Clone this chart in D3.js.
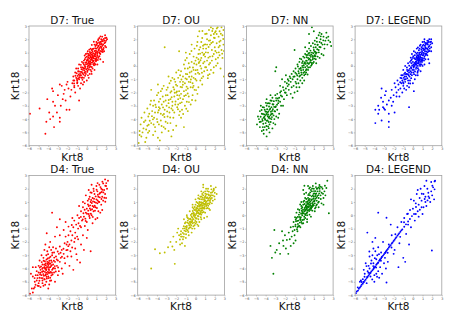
<!DOCTYPE html>
<html>
<head>
<meta charset="utf-8">
<script src="https://cdn.jsdelivr.net/npm/d3@7"></script>
<style>
  body { margin: 0; background: #fff; }
  text { font-family: "DejaVu Sans", sans-serif; }
</style>
</head>
<body>
<div id="chart"></div>
<script>
// panel titles, colours and shared ticks
const titles = ["D7: True", "D7: OU", "D7: NN", "D7: LEGEND", "D4: True", "D4: OU", "D4: NN", "D4: LEGEND"];
const colors = ["#ff0000", "#bfbf00", "#008000", "#0000ff", "#ff0000", "#bfbf00", "#008000", "#0000ff"];
const ticks = [-6, -5, -4, -3, -2, -1, 0, 1, 2, 3];
const xLabel = "Krt8";
const yLabel = "Krt18";

// points, [Krt8, Krt18]
const d7True = [
[0.2,0.3],[0.4,0.1],[0.1,-0.2],[-0.2,0.0],[0.5,0.6],[0.7,0.4],[0.3,0.8],[0.9,0.9],[0.6,1.1],[1.1,0.8],
[-0.4,-0.3],[-0.1,-0.6],[-0.6,-0.1],[0.0,0.4],[0.8,0.2],[1.0,1.3],[1.3,1.0],[1.2,1.5],[0.4,-0.3],[-0.3,0.4],
[-0.7,-0.6],[-0.5,-0.9],[-0.9,-0.4],[-0.8,-1.0],[-1.1,-0.9],[-1.0,-1.3],[-1.3,-1.1],[-0.6,-1.3],[-1.2,-0.5],[-0.3,-0.9],
[1.5,1.4],[1.4,1.8],[1.7,1.6],[1.6,1.2],[1.8,1.9],[1.9,1.5],[2.0,1.9],[1.5,2.0],[1.1,1.7],[0.9,1.5],
[0.7,1.3],[0.5,1.0],[0.2,0.9],[0.0,0.7],[-0.2,0.5],[0.3,-0.6],[0.6,-0.2],[0.9,0.1],[1.2,0.6],[1.4,0.9],
[0.15,0.05],[0.35,0.35],[0.55,0.25],[0.25,0.55],[0.75,0.75],[0.65,0.95],[0.85,0.55],[0.45,0.85],[0.05,0.15],[-0.05,-0.25],
[-0.25,-0.35],[-0.45,-0.55],[-0.15,0.25],[0.35,-0.05],[1.05,1.05],[1.25,1.25],[0.95,1.15],[1.15,1.05],[0.55,0.45],[0.35,0.65],
[-0.55,-0.25],[-0.35,-0.65],[-0.75,-0.85],[-0.85,-0.65],[-0.65,-0.45],[-0.95,-0.75],[-1.05,-0.55],[-0.45,-1.05],[-0.15,-0.45],[0.05,-0.45],
[0.95,0.35],[1.15,0.45],[0.75,0.05],[1.35,1.35],[1.55,1.65],[1.65,1.85],[1.75,1.35],[1.35,1.65],[0.65,0.65],[0.45,0.25],
[0.1,1.1],[0.4,1.3],[-0.1,0.9],[0.8,1.6],[1.0,1.8],[1.2,2.0],[1.6,2.2],[1.9,2.1],[2.1,2.0],[1.3,2.1],
[-0.8,0.1],[-0.5,0.3],[-0.9,-0.2],[-1.1,-0.2],[-1.4,-0.8],[-1.5,-1.3],[-1.3,-1.6],[-0.9,-1.5],[-0.7,-1.7],[-0.4,-1.4],
[0.2,-0.9],[0.5,-0.6],[0.8,-0.3],[1.1,0.1],[1.4,0.5],[1.7,0.3],[1.8,1.1],[2.0,1.4],[1.9,2.3],[0.0,-1.1],
[0.3,0.15],[0.6,0.75],[0.15,0.65],[0.85,0.85],[1.0,0.6],[0.5,1.2],[-0.3,0.1],[-0.6,-0.7],[-0.2,-0.2],[0.1,0.5],
[0.12,0.41],[0.33,0.18],[0.58,0.62],[0.81,0.74],[0.27,-0.12],[-0.08,0.12],[0.47,0.52],[0.69,0.33],[0.92,1.02],[1.08,0.91],
[1.21,1.18],[1.44,1.47],[1.62,1.52],[1.83,1.71],[0.38,0.96],[0.62,1.27],[0.87,1.33],[1.03,1.58],[1.27,1.76],[1.48,1.82],
[-0.33,-0.18],[-0.52,-0.46],[-0.71,-0.73],[-0.88,-0.93],[-1.02,-0.98],[-0.18,-0.74],[0.07,-0.36],[0.22,-0.28],[0.51,-0.08],[0.78,0.18],
[1.02,0.42],[1.31,0.72],[1.52,1.08],[1.71,1.22],[1.92,1.78],[2.03,2.12],[0.16,0.78],[-0.12,0.62],[-0.38,0.22],[-0.62,0.08],
[0.43,0.47],[0.29,0.33],[0.71,0.58],[0.57,0.83],[0.94,0.72],[0.18,0.22],[-0.04,0.28],[0.08,-0.06],[0.62,0.38],[0.83,1.12],
[1.13,1.38],[1.38,1.12],[0.48,-0.42],[0.12,-0.71],[-0.28,-1.21],[-0.58,-0.88],[-0.81,-0.42],[-1.18,-0.74],[-1.32,-1.32],[-0.98,-1.22],
[0.26,1.22],[0.52,1.58],[0.73,1.82],[1.17,1.92],[1.58,1.95],[1.76,2.02],[1.42,2.22],[0.03,0.93],[-0.22,0.78],[0.98,1.62],
[0.36,0.12],[0.54,0.64],[0.74,0.92],[0.96,0.52],[1.16,0.68],[1.34,0.96],[1.56,1.28],[1.66,1.04],[0.22,0.02],[-0.16,-0.08],
[-0.42,-0.12],[-0.24,-0.52],[0.41,0.72],[0.67,0.12],[0.89,0.44],[1.24,1.52],[1.46,1.64],[0.06,0.46],[-0.46,-0.86],[0.32,1.04],
[-1.0,-1.1],[-1.4,-1.1],[-2.0,-1.2],[-1.6,-1.8],[-2.1,-1.4],[-1.9,-1.7],[-2.6,-1.5],[-2.8,-1.4],[-3.6,-1.7],[-3.5,-1.9],
[-2.4,-2.1],[-2.5,-2.5],[-4.1,-2.5],[-3.5,-2.7],[-2.7,-3.0],[-3.3,-3.0],[-2.1,-3.3],[-1.8,-3.3],[-3.9,-3.5],[-3.8,-4.0],
[-3.5,-3.8],[-2.8,-3.9],[-2.8,-4.2],[-4.2,-4.2],[-3.4,-4.6],[-4.3,-5.1],[-4.9,-3.2],[-5.9,-3.6],[-0.8,-2.6],[-1.2,-2.0],
[-2.2,-2.6],[-3.0,-2.2],[-1.7,-2.3],[-2.3,-1.8],[-1.3,-1.5],[-3.1,-3.5]
];

const d7OU = [
[-5.9,-5.8],[-5.8,-5.2],[-5.7,-4.4],[-5.6,-3.9],[-5.5,-5.0],[-5.4,-4.7],[-5.3,-3.5],[-5.2,-4.1],[-5.1,-5.4],[-5.0,-3.2],[-5.0,-4.5],[-5.8,-4.9],
[-4.9,-3.8],[-4.8,-4.9],[-4.7,-2.9],[-4.6,-4.3],[-4.5,-3.4],[-4.4,-5.2],[-4.3,-2.6],[-4.3,-3.9],[-4.2,-4.6],[-4.1,-3.1],[-4.0,-2.2],[-4.0,-4.0],
[-3.9,-5.4],[-3.9,-3.5],[-3.8,-2.7],[-3.8,-4.4],[-4.6,-1.8],[-4.4,-3.0],[-4.8,-3.6],[-3.7,-5.6],
[-3.7,-3.2],[-3.6,-1.9],[-3.6,-4.1],[-3.5,-2.9],[-3.5,-5.0],[-3.4,-3.7],[-3.4,-2.3],[-3.3,-4.6],[-3.3,-1.5],[-3.2,-3.3],[-3.2,1.4],[-3.1,-2.6],
[-3.1,-4.2],[-3.0,-3.0],[-3.0,-1.8],[-2.9,-3.8],[-2.9,-2.2],[-2.8,-4.9],[-2.8,-2.8],[-2.7,-1.3],[-2.7,-3.5],[-3.9,-1.4],[-3.6,-3.6],
[-2.6,-2.5],[-2.6,-4.3],[-2.5,-1.9],[-2.5,-3.2],[-2.4,-0.9],[-2.4,-2.7],[-2.3,-3.9],[-2.3,-1.6],[-2.2,-2.3],[-2.2,-3.5],[-2.1,-1.2],[-2.1,-2.9],
[-2.0,-0.5],[-2.0,-2.0],[-2.0,-4.5],[-1.9,-1.5],[-1.9,-3.1],[-1.8,-2.5],[-1.8,-0.9],[-1.7,-1.9],[-1.7,-3.7],[-1.7,1.1],[-2.8,-0.8],[-2.5,-5.3],
[-2.2,-1.0],[-1.9,-2.2],
[-1.6,-1.2],[-1.6,-2.8],[-1.5,-0.4],[-1.5,-2.1],[-1.4,-3.3],[-1.4,-1.6],[-1.3,-0.8],[-1.3,-2.5],[-1.2,0.1],[-1.2,-1.9],[-1.1,-1.3],[-1.1,-3.0],
[-1.0,-0.6],[-1.0,-2.2],[-0.9,0.6],[-0.9,-1.0],[-0.9,-2.7],[-0.8,-1.7],[-0.8,-0.2],[-0.7,-2.3],[-0.7,-1.2],[-1.5,-3.9],[-1.2,-4.6],[-1.0,1.0],[-0.8,-3.4],
[-0.6,-0.5],[-0.6,0.9],[-0.5,-1.6],[-0.5,-2.9],[-0.4,-0.8],[-0.4,0.3],[-0.3,-1.3],[-0.3,-2.2],[-0.2,0.7],[-0.2,-0.3],[-0.1,-1.8],[-0.1,1.3],
[0.0,-0.6],[0.0,-2.6],[0.1,0.1],[0.1,-1.1],[0.2,1.8],[0.2,-0.3],[0.3,0.9],[0.3,-1.6],[-0.6,-0.1],[-0.2,-0.9],[0.0,0.4],[-0.4,1.6],[0.2,-2.1],
[0.4,0.3],[0.4,-0.6],[0.5,1.4],[0.5,-1.1],[0.6,0.6],[0.6,-0.2],[0.7,2.1],[0.7,1.0],[0.8,-0.8],[0.8,0.2],[0.9,1.6],[0.9,-0.4],[1.0,0.7],[1.0,2.4],
[0.4,2.6],[0.6,1.8],[0.3,0.5],[0.9,0.9],[0.7,-1.4],
[1.1,-0.1],[1.1,1.3],[1.2,2.0],[1.2,0.4],[1.3,-0.7],[1.3,1.0],[1.4,2.7],[1.4,0.1],[1.5,1.6],[1.5,0.7],[1.6,2.3],[1.6,-0.3],[1.7,1.2],[1.7,0.4],
[1.8,2.8],[1.8,1.8],[1.9,0.9],[1.9,-0.1],[2.0,2.1],[2.0,1.4],[1.2,1.6],[1.6,2.9],[1.4,1.9],
[2.1,0.5],[2.1,2.6],[2.2,1.7],[2.2,1.0],[2.3,2.9],[2.3,0.2],[2.4,2.2],[2.4,1.4],[2.5,0.8],[2.5,2.6],[2.6,1.9],[2.6,-0.2],[2.7,1.2],[2.7,2.9],
[2.8,2.3],[2.8,0.6],[2.9,1.6],[2.9,2.7],[2.95,-0.8],[2.2,2.4],
[-2.4,-3.0],[-1.6,-0.7],[-0.7,0.2],[-3.3,-2.7],[-2.9,-4.3],[0.5,0.0],[1.0,-0.1],[-1.3,-1.2],[-1.8,-2.9],[-0.2,-1.5],[-4.2,-3.5],[-3.8,-3.1],
[0.8,1.3],[1.9,2.4],[-1.1,-0.2],[-2.6,-2.0],
[-5.62,-5.31],[-5.35,-4.22],[-5.12,-4.78],[-4.93,-5.02],[-4.75,-4.12],[-4.52,-3.78],[-4.35,-4.41],[-4.16,-2.92],[-3.95,-4.22],[-3.82,-3.33],
[-3.66,-2.48],[-3.52,-4.52],[-3.37,-3.12],[-3.22,-3.84],[-3.08,-2.21],[-2.94,-3.42],[-2.78,-2.56],[-2.63,-3.88],[-2.48,-2.36],[-2.36,-3.34],
[-2.21,-1.78],[-2.07,-2.68],[-1.93,-1.92],[-1.82,-3.26],[-1.68,-2.22],[-1.55,-1.58],[-1.43,-2.74],[-1.31,-1.42],[-1.17,-2.26],[-1.04,-0.94],
[-0.92,-1.56],[-0.81,-2.08],[-0.66,-0.82],[-0.53,-1.22],[-0.42,-0.42],[-0.28,-1.62],[-0.14,0.18],[-0.02,-0.98],[0.12,0.62],[0.26,-0.52],
[0.38,1.22],[0.52,0.42],[0.67,-0.52],[0.78,1.52],[0.93,0.32],[1.07,1.02],[1.22,-0.32],[1.36,1.42],[1.51,0.22],[1.64,1.72],
[1.77,0.72],[1.92,2.12],[2.06,1.12],[2.21,2.82],[2.34,0.62],[2.48,1.82],[2.63,2.42],[2.77,0.92],[2.88,2.02],[2.42,1.02],
[-4.62,-2.62],[-4.18,-4.92],[-3.46,-1.72],[-3.14,-4.72],[-2.56,-1.12],[-2.32,-4.82],[-1.76,-0.32],[-1.62,-3.42],[-1.06,0.42],[-0.96,-3.22],
[-0.42,1.12],[-0.36,-2.56],[0.14,1.52],[0.06,-1.82],[0.72,2.62],[0.64,-0.92],[1.16,2.42],[1.28,-0.92],[1.74,2.62],[1.86,-0.52],
[-2.02,-1.42],[-1.46,-1.02],[-0.86,-0.62],[-0.26,-0.12],[0.34,0.22],[0.84,0.82],[1.34,0.62],[-2.74,-3.12],[-2.16,-2.02],[-1.58,-2.42],
[-0.98,-1.82],[-0.48,-1.02],[0.02,-0.32],[0.48,0.92],[1.02,1.62],[1.52,1.92],[2.02,2.52],[2.52,1.52],[-3.86,-2.02],[-4.42,-4.02],
[-5.22,-5.72],[-4.86,-4.42],[-3.28,-3.62],[-2.88,-1.62],[-1.28,-3.62],[-0.68,-2.72],[2.96,1.12],[2.14,0.02],[1.46,-0.62],[0.24,2.22]
];

const d7NN = [
[-4.5,-4.2],[-4.4,-3.6],[-4.3,-4.6],[-4.2,-3.9],[-4.1,-3.3],[-4.0,-4.3],[-4.0,-3.7],[-3.9,-3.0],[-3.9,-4.8],[-3.8,-3.5],[-3.8,-4.1],[-3.7,-2.8],
[-3.7,-3.9],[-3.6,-3.3],[-3.6,-4.4],[-3.5,-3.7],[-3.5,-2.6],[-3.4,-4.0],[-3.4,-3.1],[-3.3,-3.6],[-3.3,-2.4],[-3.2,-4.3],[-3.2,-2.9],[-3.1,-3.4],
[-3.0,-2.2],[-3.0,-3.1],[-2.9,-3.8],[-2.9,-2.6],[-2.8,-2.1],[-2.8,-3.3],[-2.7,-2.8],[-2.6,-2.4],[-2.6,-3.6],[-2.5,-2.0],[-4.6,-3.4],[-4.7,-4.0],
[-4.8,-3.8],[-4.6,-4.6],[-4.4,-4.9],[-4.2,-5.1],[-3.9,-5.3],[-4.1,-4.6],[-4.3,-3.1],[-4.5,-3.0],[-3.6,-5.0],[-3.3,-4.7],[-3.1,-4.0],[-3.95,-3.45],
[-3.75,-3.65],[-3.55,-3.95],[-3.45,-3.45],[-3.85,-3.25],[-4.05,-4.05],[-3.65,-3.05],[-3.25,-3.25],[-4.25,-4.35],[-3.35,-3.85],[-2.95,-3.05],
[-4.15,-3.65],[-4.35,-4.0],[-3.15,-2.65],[-2.75,-2.45],[-3.5,-2.2],[-3.9,-2.5],[-2.4,-3.0],[-2.5,-2.7],[-4.9,-4.4],[-3.0,-4.4],[-2.7,-3.9],[-3.75,-4.55],
[-4.12,-3.82],[-3.92,-3.62],[-3.72,-3.42],[-3.52,-3.22],[-3.88,-4.12],[-3.62,-3.82],[-4.32,-4.12],[-3.42,-3.62],[-4.02,-3.42],[-3.82,-2.82],
[-3.28,-2.88],[-3.18,-3.72],[-4.52,-3.82],[-4.22,-4.82],[-3.48,-4.22],[-3.02,-3.42],[-2.82,-2.92],[-4.42,-3.32],[-3.92,-4.52],[-3.58,-2.82],
[-4.18,-3.12],[-3.68,-4.68],[-3.38,-2.62],[-2.92,-2.42],[-4.62,-4.22],[-4.08,-3.98],[-3.78,-3.78],[-3.32,-3.38],[-3.12,-3.08],[-2.68,-2.62],
[-4.28,-3.62],[-3.98,-2.78],[-3.68,-4.22],
[-2.4,-1.9],[-2.3,-2.3],[-2.2,-1.6],[-2.1,-2.5],[-2.0,-1.2],[-2.0,-2.0],[-1.9,-1.7],[-1.8,-2.2],[-1.8,-1.3],[-1.7,-1.0],[-1.6,-1.8],[-1.6,-1.4],
[-1.5,-0.8],[-1.4,-2.1],[-1.4,-1.2],[-1.3,-1.6],[-1.3,-0.6],[-2.2,-3.0],[-3.0,-0.4],[-2.9,-0.1],[-1.2,-2.4],[-2.5,-1.5],[-1.9,-0.7],[-2.3,-1.0],
[-1.2,-1.0],[-1.1,-0.4],[-1.1,-1.5],[-1.0,-0.8],[-1.0,1.2],[-0.9,-1.2],[-0.9,-0.2],[-0.8,-0.6],[-0.8,-1.6],[-0.7,0.1],[-0.7,-1.0],[-0.6,-0.4],
[-0.6,-1.3],[-0.5,0.3],[-0.5,-0.8],[-0.4,-0.2],[-0.4,-1.1],[-0.3,0.5],[-0.3,-0.5],[-0.2,0.0],[-0.2,-0.9],[-0.1,0.7],[-0.1,-0.3],[0.0,0.2],
[0.0,-0.7],[0.1,-0.1],[0.1,0.9],[0.2,0.4],[0.2,-0.5],[0.3,0.0],[0.3,1.1],[0.4,0.6],[0.4,-0.3],[0.5,0.2],[0.5,1.3],[0.6,0.8],
[0.6,-0.1],[0.7,0.4],[0.7,1.5],[0.8,1.0],[0.8,0.1],[0.9,0.6],[0.9,1.7],[1.0,1.2],[1.0,0.3],[1.1,0.8],[1.1,1.9],[1.2,1.4],
[1.2,0.5],[1.3,1.0],[1.3,2.1],[1.4,1.6],[1.4,0.7],[1.5,1.2],[1.5,2.3],[1.6,1.8],[1.7,1.4],[1.7,2.0],[1.8,0.9],[1.9,1.6],
[2.0,2.2],[2.1,1.3],[2.2,1.9],[2.4,1.6],[2.5,2.2],[2.7,1.8],[2.8,1.5],[0.8,2.9],[0.5,2.4],[1.0,2.6],[1.6,2.5],[-0.15,0.35],
[0.05,-0.45],[0.25,0.65],[0.45,0.15],[0.65,0.45],[0.85,0.75],[0.35,-0.65],[-0.35,-0.15],[-0.55,-0.55],[0.15,0.15],[0.55,0.55],[0.75,0.85],[0.95,0.95],
[1.15,1.05],[0.25,-0.25],[-0.05,0.05],[-0.25,-0.65],[1.05,0.55],[1.35,1.25],[0.65,1.15],[0.45,0.95],[-0.45,0.55],[-0.65,-0.05],[1.25,0.2],[1.6,0.6],
[0.1,1.4],[-0.2,-1.3],[0.0,-1.1],[-0.5,-1.6],[-0.7,-1.9],[-1.0,-2.0],[2.0,0.8],[2.3,2.5],[1.8,2.4],
[-0.32,-0.32],[-0.12,-0.12],[0.08,0.28],[0.28,0.38],[0.48,0.48],[0.68,0.68],[0.88,0.48],[1.08,1.08],[0.18,-0.32],[0.38,0.82],
[0.58,0.98],[0.78,0.22],[0.98,1.38],[1.18,0.72],[1.38,1.58],[1.58,1.42],[1.78,1.72],[1.98,1.92],[-0.52,-0.22],[-0.72,-0.72],
[-0.92,-0.52],[-0.22,0.22],[0.02,0.62],[0.32,0.22],[0.62,0.28],[0.92,0.22],[1.22,0.92],[1.52,1.02],[2.12,1.62],[2.32,2.12],
[-1.12,-0.82],[-0.82,-1.32],[-0.42,-0.72],[0.12,-0.62],[0.42,-0.12],[0.72,0.02],[1.02,0.72],[1.32,1.82],[1.72,2.22],[2.52,1.92],
[-0.08,-0.52],[0.52,1.72],[1.12,1.62],[0.22,0.82],[-1.42,-0.92],[-1.62,-1.12],[-2.12,-1.82],[-1.72,-1.52],[-2.42,-2.22],[-1.92,-2.02]
];

const d7Legend = [
[0.3,0.2],[0.5,0.0],[0.1,-0.3],[-0.2,-0.1],[0.6,0.5],[0.8,0.3],[0.4,0.7],[1.0,0.8],[0.7,1.0],[1.2,0.7],
[-0.4,-0.5],[-0.1,-0.7],[-0.6,-0.3],[0.0,0.3],[0.9,0.1],[1.1,1.2],[1.4,0.9],[1.3,1.4],[0.5,-0.4],[-0.3,0.3],
[-0.7,-0.8],[-0.5,-1.1],[-0.9,-0.6],[-0.8,-1.2],[-1.1,-1.1],[-1.0,-1.5],[-1.2,-1.3],[-0.6,-1.5],[-1.2,-0.7],[-0.3,-1.1],
[1.5,1.3],[1.4,1.7],[1.7,1.5],[1.6,1.1],[1.8,1.8],[1.9,1.4],[1.9,2.0],[1.5,1.9],[1.1,1.6],[0.9,1.4],
[0.7,1.3],[0.5,1.0],[0.2,0.8],[0.0,0.6],[-0.2,0.4],[0.3,-0.7],[0.6,-0.3],[1.0,0.0],[1.3,0.5],[1.5,0.8],
[0.15,0.0],[0.35,0.3],[0.55,0.2],[0.25,0.5],[0.75,0.7],[0.65,0.9],[0.85,0.5],[0.45,0.8],[0.05,0.1],[-0.05,-0.3],
[-0.25,-0.4],[-0.45,-0.7],[-0.15,0.2],[0.35,-0.1],[1.05,1.0],[1.25,1.1],[0.95,1.1],[1.15,0.95],[0.55,0.4],[0.35,0.6],
[-0.55,-0.4],[-0.35,-0.8],[-0.75,-1.0],[-0.85,-0.8],[-0.65,-0.6],[-0.95,-0.9],[-1.05,-0.7],[-0.45,-1.3],[-0.15,-0.5],[0.05,-0.5],
[0.95,0.3],[1.15,0.4],[0.75,0.0],[1.35,1.3],[1.55,1.6],[1.65,1.8],[1.75,1.3],[1.35,1.6],[0.65,0.6],[0.45,0.2],
[0.1,1.1],[0.4,1.3],[-0.1,0.9],[0.8,1.6],[1.0,1.8],[1.2,2.0],[1.7,2.0],[1.9,1.1],[2.0,1.7],[-0.8,0.0],
[-0.5,0.2],[-1.0,-0.3],[-1.3,-0.9],[-1.5,-1.4],[-1.3,-1.7],[-0.9,-1.7],[-0.7,-1.8],[-0.4,-1.6],[0.2,-1.0],[0.5,-0.7],
[0.8,-0.4],[1.2,0.1],[1.6,0.5],[1.7,0.2],[0.1,-1.9],[-0.4,-3.1],[0.0,-1.3],[0.3,0.1],[0.6,0.7],[0.85,0.85],
[0.22,0.12],[0.42,0.38],[0.62,0.22],[0.82,0.62],[0.32,-0.22],[-0.08,0.02],[0.52,0.58],[0.72,0.42],[0.92,0.92],[1.12,0.82],
[1.22,1.22],[1.42,1.32],[1.62,1.42],[1.82,1.62],[0.38,0.92],[0.62,1.18],[0.88,1.22],[1.02,1.52],[1.28,1.72],[1.52,1.72],
[-0.32,-0.22],[-0.52,-0.62],[-0.72,-0.62],[-0.88,-1.02],[-1.02,-1.22],[-0.18,-0.92],[0.08,-0.12],[0.22,-0.42],[0.52,-0.18],[0.78,0.12],
[1.02,0.52],[1.32,0.82],[1.52,1.02],[1.72,1.12],[1.88,1.82],[0.16,0.58],[-0.12,0.48],[-0.38,0.02],[-0.62,-0.12],[0.43,0.48],
[0.29,0.32],[0.71,0.52],[0.57,0.78],[0.94,0.62],[0.18,0.22],[0.08,-0.02],[0.62,0.32],[0.83,1.02],[1.13,1.32],[1.38,1.08],
[0.48,-0.52],[0.12,-0.62],[-0.28,-1.32],[-0.58,-0.92],[-0.81,-0.52],[-1.18,-0.92],[-1.32,-1.22],[-0.98,-1.32],[0.26,1.02],[0.52,1.38],
[0.73,1.52],[1.17,1.82],[1.58,1.88],[0.03,0.72],[-0.22,0.62],[0.98,1.32],[0.36,0.08],[0.54,0.64],[0.74,0.82],[0.96,0.42],
[1.16,0.58],[1.34,0.92],[1.56,1.22],[-0.16,-0.18],[-0.42,-0.32],[-0.24,-0.62],[0.41,0.62],[0.67,0.08],[0.89,0.38],[1.24,1.52],
[-1.6,-1.1],[-1.5,-1.8],[-1.8,-1.6],[-1.7,-2.0],[-1.9,-1.3],[-2.0,-2.2],[-1.4,-2.3],[-1.1,-2.0],[-2.2,-1.8],[-2.3,-2.4],
[-3.25,-1.7],[-2.9,-2.2],[-2.5,-2.6],[-2.05,-2.7],[-1.7,-2.3],[-3.6,-3.0],[-3.0,-3.2],[-2.9,-3.3],[-2.5,-3.6],[-3.6,-3.6],
[-3.25,-4.1],[-2.5,-4.2],[-3.9,-4.3],[-2.5,-4.6],[-3.5,-3.3],[-3.1,-3.1],[-2.7,-2.9],[-2.2,-3.0],[-3.9,-3.3],[-3.3,-2.4],
[-2.8,-1.9],[-1.9,-3.5],[-3.1,-2.7]
];

const d4True = [
[-4.2,-4.1],[-4.0,-3.8],[-3.9,-4.3],[-4.4,-3.9],[-4.1,-3.5],[-3.8,-3.9],[-4.3,-4.5],[-3.7,-3.4],[-4.5,-4.2],[-4.0,-4.6],
[-3.6,-4.1],[-4.6,-3.7],[-3.9,-3.2],[-4.2,-3.0],[-3.5,-3.7],[-4.7,-4.5],[-4.4,-4.8],[-3.8,-4.7],[-3.4,-4.3],[-4.8,-4.1],
[-3.6,-3.0],[-4.1,-2.7],[-3.3,-3.5],[-3.7,-2.6],[-4.5,-3.2],[-4.9,-4.7],[-4.6,-5.1],[-4.2,-5.0],[-3.9,-5.2],[-5.0,-4.3],
[-5.2,-4.9],[-5.1,-5.3],[-5.4,-5.0],[-5.3,-4.5],[-5.5,-5.5],[-5.7,-5.5],[-5.6,-5.8],[-5.4,-5.4],[-5.0,-5.1],[-4.8,-5.4],
[-3.2,-3.1],[-3.1,-3.8],[-3.4,-2.8],[-3.0,-3.4],[-3.3,-4.0],[-2.9,-2.9],[-2.8,-3.5],[-3.5,-2.4],[-4.3,-2.2],[-3.9,-2.4],
[-4.15,-3.95],[-3.95,-4.05],[-4.05,-4.25],[-4.25,-3.75],[-3.85,-3.65],[-4.35,-4.25],[-3.75,-4.25],[-4.45,-4.55],[-3.65,-3.75],[-4.55,-3.95],
[-4.25,-4.45],[-3.95,-3.55],[-4.65,-4.25],[-4.05,-3.25],[-3.55,-4.45],[-4.75,-3.85],[-4.35,-3.45],[-3.45,-3.95],[-4.85,-4.45],[-4.15,-4.75],
[-5.0,-3.8],[-5.2,-4.2],[-4.9,-3.4],[-5.3,-3.9],[-5.6,-4.6],[-5.8,-4.4],[-4.7,-3.0],[-4.4,-2.6],[-3.0,-4.5],[-3.3,-5.0],
[-4.0,-5.5],[-4.5,-5.3],[-2.7,-3.2],[-2.6,-4.0],[-2.9,-4.2],[-3.2,-2.5],[-3.7,-4.9],[-4.6,-4.9],[-5.1,-4.5],[-4.3,-4.0],
[-4.12,-3.88],[-3.92,-4.12],[-4.32,-4.02],[-4.02,-3.68],[-3.82,-4.32],[-4.22,-4.32],[-3.72,-3.82],[-4.42,-3.72],[-4.08,-4.42],[-3.62,-3.52],
[-4.52,-4.42],[-3.88,-3.42],[-4.28,-3.62],[-3.98,-4.72],[-4.62,-4.02],[-3.52,-4.02],[-4.18,-3.32],[-4.72,-4.72],[-3.78,-3.12],[-4.38,-4.82],
[-3.42,-3.42],[-4.82,-4.32],[-3.68,-4.52],[-4.48,-3.42],[-3.32,-3.82],[-4.92,-4.92],[-4.02,-2.92],[-3.58,-2.82],[-4.68,-3.52],[-5.12,-4.72],
[-5.32,-5.22],[-4.98,-5.32],[-4.32,-5.22],[-3.82,-4.92],[-3.22,-4.22],[-3.12,-3.32],[-3.02,-2.72],[-3.38,-3.18],[-4.88,-3.92],[-5.42,-4.72],
[-4.58,-4.72],[-4.18,-4.62],[-3.92,-3.92],[-4.22,-4.12],[-3.98,-4.32],[-4.38,-3.92],[-4.08,-3.62],[-3.78,-3.62],[-4.58,-4.22],[-3.62,-4.32],
[-2.98,-3.92],[-2.72,-2.82],[-2.58,-3.12],[-2.42,-2.52],[-2.32,-3.22],[-2.12,-2.62],[-1.92,-2.32],[-1.52,-2.42],[-1.22,-1.72],[-1.08,-2.92],
[-4.16,-1.35],[-3.8,-2.0],[-3.3,-1.6],[-2.8,-2.35],[-2.1,-2.2],[-1.7,-2.7],[-1.0,-3.35],[-0.7,-3.55],[-1.4,-4.1],[-2.25,-3.6],
[-2.8,-1.5],[-2.4,-2.9],[-2.0,-3.1],[-1.8,-3.8],[-2.5,-4.4],[-5.6,-3.9],[-5.9,-5.9],
[-2.6,-2.6],[-2.3,-2.1],[-2.2,-1.6],[-2.0,-2.0],[-1.9,-1.5],[-1.8,-2.2],[-1.7,-1.2],[-1.6,-1.9],[-1.5,-1.5],[-1.4,-0.9],
[-1.3,-2.0],[-1.2,-1.3],[-1.1,-0.7],[-1.0,-1.6],[-1.9,-0.85],[-1.56,-0.73],[-0.86,-0.6],[-0.97,0.0],[-2.4,-1.1],[-1.2,-2.5],
[-0.9,-1.8],[-0.6,-2.2],[-2.8,-0.3],[-3.6,0.2],[-3.1,-0.9],[-2.2,-0.5],[-0.3,-2.6],[0.4,-2.7],[-1.6,-3.1],[-2.0,-2.6],
[-0.9,-1.0],[-0.8,-0.2],[-0.7,-0.8],[-0.6,0.3],[-0.5,-0.4],[-0.4,0.6],[-0.3,-0.1],[-0.2,0.9],[-0.1,0.2],[0.0,-0.5],
[0.0,0.5],[0.1,1.1],[0.2,0.1],[0.2,0.7],[0.3,1.4],[0.3,-0.2],[0.4,0.4],[0.4,1.0],[0.5,1.7],[0.5,0.0],
[0.6,0.7],[0.6,1.3],[0.7,2.0],[0.7,0.3],[0.8,1.0],[0.8,1.6],[0.9,-0.3],[0.9,0.6],[1.0,1.2],[1.0,2.2],
[1.1,0.9],[1.1,1.8],[1.2,0.3],[1.2,1.4],[1.3,2.3],[1.3,1.0],[1.4,1.7],[1.5,2.0],[1.5,0.8],[1.6,1.4],
[1.7,2.4],[1.7,1.1],[1.8,1.9],[1.9,1.6],[2.0,2.2],[2.1,2.0],[2.2,2.6],[1.9,2.7],[2.0,1.3],[1.6,0.4],
[-0.1,1.5],[0.2,1.9],[0.5,2.3],[-0.4,1.0],[-0.6,-0.9],[-0.2,-0.8],[0.1,-1.1],[0.6,-0.6],[1.1,-0.2],[1.4,0.2],
[0.15,0.35],[0.35,0.75],[0.55,0.45],[0.75,1.25],[0.95,0.95],[1.15,1.55],[0.25,-0.05],[-0.15,-0.25],[0.45,1.15],[0.85,0.35],
[-0.35,0.15],[1.35,1.35],[1.55,1.75],[0.65,1.05],[1.05,0.55],[-1.3,-0.4],[-1.5,-0.2],[-0.8,0.7],[0.0,-1.7],[-0.4,-1.5],
[0.32,0.52],[0.52,0.92],[0.72,0.62],[0.92,1.42],[1.12,1.12],[1.32,1.62],[1.52,1.22],[1.72,1.72],[1.92,2.22],[0.12,0.82],
[0.22,1.22],[0.42,0.12],[0.62,-0.12],[0.82,0.72],[1.02,1.92],[1.22,1.02],[1.42,2.12],[1.62,1.92],[1.82,1.32],[-0.22,0.42],
[-0.42,-0.32],[-0.62,-0.12],[0.02,0.12],[1.12,2.42],[1.62,2.52],[2.02,2.42],[0.72,1.82],[-0.12,-0.42],[0.38,1.72],[1.92,1.02]
];

const d4OU = [
[0.0,0.0],[0.2,0.3],[-0.2,-0.3],[0.4,0.1],[-0.1,0.4],[0.3,-0.3],[0.6,0.5],[-0.4,-0.1],[0.1,-0.5],[0.5,0.8],
[-0.3,-0.6],[0.7,0.2],[0.8,0.9],[-0.6,-0.5],[0.9,0.5],[1.0,1.1],[-0.5,-0.9],[-0.8,-0.4],[1.1,0.7],[0.2,0.7],
[-0.7,-1.0],[1.2,1.3],[0.4,1.0],[-0.9,-0.8],[1.3,0.9],[-1.0,-1.2],[0.6,1.2],[1.4,1.5],[-1.1,-0.6],[0.0,0.8],
[-1.2,-1.4],[1.5,1.1],[0.8,1.5],[-1.3,-1.0],[1.6,1.7],[-1.4,-1.6],[1.0,1.8],[1.7,1.3],[-0.2,0.5],[0.3,-0.8],
[0.15,0.15],[0.35,0.45],[-0.05,-0.15],[0.55,0.25],[0.25,-0.05],[-0.25,0.15],[0.45,0.65],[0.65,0.85],[-0.35,-0.35],[0.75,0.55],
[0.85,0.25],[0.05,0.35],[-0.15,-0.55],[0.55,-0.15],[-0.45,-0.75],[0.95,0.85],[1.05,1.45],[1.15,1.05],[0.35,0.85],[-0.55,-0.25],
[-0.65,-0.75],[0.7,1.6],[1.25,0.55],[0.9,1.3],[-0.75,-1.25],[-0.85,-0.55],[1.35,1.25],[0.5,1.4],[-0.95,-1.05],[1.45,0.85],
[-1.05,-0.85],[1.55,1.45],[0.1,1.0],[-1.15,-1.15],[1.65,1.95],[-0.3,0.8],[1.8,1.5],[1.9,1.9],[2.0,1.7],[2.1,2.1],
[1.3,2.0],[0.8,2.1],[1.6,2.2],[0.8,2.3],[1.1,2.0],[1.9,2.0],[2.2,1.6],[1.7,0.9],[1.4,0.5],[1.0,0.2],
[0.6,-0.3],[0.2,-0.7],[-0.1,-1.0],[-0.4,-1.3],[-0.7,-1.5],[-1.0,-1.7],[-1.3,-1.8],[-1.5,-1.2],[-1.8,-1.0],[-1.5,-1.6],
[-2.0,-2.0],[-1.7,-1.5],[-1.6,-2.2],[-1.2,-0.3],[-0.9,0.0],[-0.6,0.3],[-0.3,0.6],[0.0,1.2],[0.3,1.5],[0.6,1.8],
[1.2,-0.1],[0.9,-0.2],[1.5,0.4],[1.8,1.1],[2.0,1.2],[-0.8,-0.2],[0.4,-0.5],[0.1,0.55],[0.45,0.35],[0.7,0.75],
[-0.2,0.0],[-0.5,-0.5],[0.3,0.2],[1.1,1.3],[0.9,1.05],[1.2,0.85],[-0.1,-0.75],[-0.35,-1.0],[0.05,-0.25],[0.6,0.05],
[0.08,0.12],[0.28,0.38],[0.48,0.52],[0.68,0.62],[0.88,0.78],[1.08,0.98],[1.28,1.12],[1.48,1.32],[0.18,0.52],[0.38,0.72],
[0.58,0.98],[0.78,1.18],[0.98,1.38],[1.18,1.58],[1.38,1.78],[-0.12,0.08],[-0.32,-0.18],[-0.52,-0.32],[-0.72,-0.62],[-0.92,-0.92],
[-1.12,-0.98],[0.12,-0.22],[0.32,-0.08],[0.52,0.12],[0.72,0.38],[0.92,0.62],[1.12,0.52],[1.32,0.72],[1.52,0.98],[-0.02,-0.42],
[-0.22,-0.82],[-0.42,-0.52],[-0.62,-0.92],[-0.82,-1.12],[0.22,0.92],[0.42,1.22],[0.62,1.42],[0.82,1.72],[1.02,1.62],[1.22,1.82],
[1.42,1.12],[1.62,1.52],[1.72,1.72],[-0.08,0.62],[-0.28,0.32],[-0.48,0.02],[-0.68,-0.28],[-0.88,-0.12],[-1.02,-0.52],[-1.22,-0.82],
[0.15,0.25],[0.35,0.15],[0.55,0.75],[0.75,0.95],[0.95,1.15],[1.15,0.75],[-0.15,-0.05],[-0.35,-0.45],[-0.55,-0.65],[0.05,0.45],
[0.25,0.65],[0.45,0.95],[0.65,0.35],[0.85,0.55],[1.05,0.85],[1.25,1.35],[0.02,-0.62],[-0.18,0.18],[-0.38,0.12],[0.72,1.32],
[1.36,1.56],[1.58,1.22],[1.82,1.82],[1.96,1.42],[-1.32,-1.32],[-1.52,-1.42],[-1.62,-1.82],[-1.22,-1.62],[-0.98,-1.42],[0.28,1.28],
[-1.1,-2.3],[-1.4,-2.1],[-2.3,-1.6],[-1.9,-1.3],
[-4.2,-2.55],[-3.7,-2.85],[-3.2,-2.8],[-2.85,-2.4],[-2.4,-2.35],[-2.15,-3.65],[-4.6,-4.0],[-2.6,-2.0],[-2.2,-2.6]
];

const d4NN = [
[0.0,0.3],[0.2,0.6],[-0.2,0.0],[0.4,0.4],[-0.1,0.8],[0.3,0.0],[0.6,0.8],[-0.4,-0.2],[0.1,-0.2],[0.5,1.1],
[-0.3,-0.5],[0.7,0.4],[0.8,1.2],[-0.6,-0.4],[0.9,0.7],[1.0,1.4],[-0.5,-0.8],[-0.8,-0.2],[1.1,0.9],[0.2,1.0],
[-0.7,-0.9],[1.2,1.6],[0.4,1.3],[-0.9,-0.7],[1.3,1.1],[-1.0,-1.1],[0.6,1.5],[1.4,1.8],[-1.1,-0.5],[0.0,1.1],
[1.5,1.3],[0.8,1.8],[1.6,2.0],[1.7,1.5],[-0.2,0.6],[0.3,-0.5],[0.15,0.35],[0.35,0.65],[-0.05,0.15],[0.55,0.45],
[0.25,0.15],[-0.25,0.35],[0.45,0.85],[0.65,1.05],[-0.35,-0.15],[0.75,0.65],[0.85,0.35],[0.05,0.55],[-0.15,-0.35],[0.55,0.05],
[-0.45,-0.55],[0.95,1.05],[1.05,1.65],[1.15,1.25],[0.35,1.05],[-0.55,0.05],[-0.65,-0.65],[0.7,1.9],[1.25,0.75],[0.9,1.5],
[-0.75,-1.05],[-0.85,-0.45],[1.35,1.45],[0.5,1.6],[1.45,0.95],[1.55,1.65],[0.1,1.3],[1.65,2.15],[-0.3,1.0],[1.8,1.7],
[1.9,2.0],[2.0,1.3],[2.1,1.8],[1.3,2.0],[0.6,2.1],[1.0,2.0],[0.4,2.2],[0.9,2.2],[1.5,2.1],[2.3,2.05],
[2.56,0.15],[1.8,0.9],[1.5,0.6],[1.1,0.3],[0.7,-0.1],[0.3,-0.3],[-0.1,-0.6],[-0.4,-0.9],[-0.7,-1.2],[-1.0,-1.5],
[-0.5,0.4],[-0.8,0.2],[-0.3,0.7],[0.0,1.6],[0.2,1.7],[-0.1,1.9],[1.2,0.6],[2.0,0.8],[2.2,1.5],[-1.2,-1.2],
[0.1,0.1],[0.4,0.6],[0.7,0.9],[0.2,0.45],[0.5,0.7],[0.8,0.6],[-0.2,0.25],[0.0,-0.1],[1.0,0.75],[0.3,0.85],
[0.08,0.42],[0.28,0.52],[0.48,0.62],[0.68,0.72],[0.88,0.92],[1.08,1.12],[1.28,1.32],[1.48,1.52],[0.18,0.72],[0.38,0.92],
[0.58,1.22],[0.78,1.42],[0.98,1.62],[1.18,1.82],[1.38,2.02],[-0.12,0.42],[-0.32,0.12],[-0.52,-0.12],[-0.72,-0.42],[-0.92,-0.82],
[0.12,0.02],[0.32,0.22],[0.52,0.32],[0.72,0.52],[0.92,0.82],[1.12,0.52],[1.32,0.82],[1.52,1.02],[-0.02,-0.32],[-0.22,-0.62],
[-0.42,-0.32],[-0.62,-0.82],[0.22,1.22],[0.42,1.52],[0.62,1.72],[0.82,2.02],[1.02,1.82],[1.22,2.12],[1.62,1.82],[1.82,2.12],
[-0.08,1.02],[-0.28,0.52],[-0.48,0.22],[-0.68,-0.12],[-0.88,-0.32],[0.15,0.65],[0.35,0.35],[0.55,0.95],[0.75,1.15],[0.95,1.25],
[1.15,1.45],[-0.15,0.15],[-0.35,-0.35],[0.05,0.85],[0.25,0.75],[0.45,1.15],[0.65,0.55],[0.85,0.75],[1.05,1.05],[1.25,1.65],
[1.72,1.22],[1.95,1.62],[2.15,2.22],[1.58,2.28],[0.52,2.02],[-0.42,0.82],[0.02,2.22],[-0.65,0.45],[-0.95,-0.15],[-1.15,-0.85],
[-1.4,-0.9],[-1.3,-1.6],[-1.6,-1.3],[-0.9,-1.9],[-1.1,-2.1],[2.4,2.6],[1.2,2.4],
[-3.1,-1.1],[-3.5,-2.3],[-3.35,-3.2],[-2.85,-2.6],[-2.15,-2.3],[-1.65,-2.9],[-3.2,-4.4],[-2.3,-1.2],[-1.8,-1.85],[-2.0,-1.5],
[-1.5,-1.8],[-2.6,-2.1],[-1.9,-2.5],[-1.4,-2.3],[-2.5,-2.9],[-3.0,-2.8],[-2.2,-1.9]
];

const d4Legend = [
[-5.9,-5.85],[-5.82,-5.72],[-5.7,-5.66],[-5.61,-5.52],[-5.5,-5.43],[-5.4,-5.33],[-5.32,-5.22],[-5.2,-5.14],[-5.11,-5.03],[-5.0,-4.93],
[-4.91,-4.84],[-4.8,-4.72],[-4.72,-4.64],[-4.6,-4.53],[-4.51,-4.42],[-4.4,-4.33],[-4.32,-4.22],[-4.2,-4.13],[-4.1,-4.04],[-4.0,-3.92],
[-3.92,-3.85],[-3.8,-3.72],[-3.71,-3.63],[-3.6,-3.54],[-3.5,-3.42],[-3.41,-3.33],[-3.3,-3.24],[-3.21,-3.12],[-3.1,-3.03],[-3.0,-2.93],
[-2.9,-2.84],[-2.8,-2.72],[-2.71,-2.63],[-2.6,-2.53],[-2.5,-2.42],[-2.41,-2.33],[-2.3,-2.24],[-2.2,-2.12],[-2.11,-2.04],[-2.0,-1.93],
[-1.9,-1.84],[-1.8,-1.72],[-1.71,-1.64],[-1.6,-1.53],[-1.5,-1.43],[-1.41,-1.34],[-1.3,-1.24],[-1.2,-1.13],[-1.1,-1.06],[-0.9,-0.86],
[-0.72,-0.68],[-0.5,-0.47],[-0.31,-0.28],[-0.1,-0.06],[0.12,0.1],[-4.45,-4.34],[-4.05,-3.95],[-3.65,-3.6],[-3.25,-3.16],[-2.85,-2.8],
[-4.6,-3.8],[-4.3,-3.4],[-4.0,-4.5],[-4.4,-4.6],[-3.8,-3.3],[-4.7,-4.2],[-4.2,-3.0],[-3.6,-4.2],[-3.9,-2.7],[-4.5,-3.1],
[-5.0,-4.4],[-5.2,-4.8],[-4.8,-5.1],[-3.4,-3.9],[-3.2,-4.4],[-4.1,-2.5],[-4.73,-1.3],[-3.6,0.2],[-2.74,-0.18],[-2.74,-5.05],
[-3.0,-3.6],[-3.3,-2.8],[-3.6,-2.4],[-4.9,-3.6],[-5.1,-4.1],[-5.4,-4.9],[-3.5,-4.7],[-4.0,-5.0],[-2.9,-3.2],[-2.6,-3.5],
[-2.5,-2.2],[-3.1,-2.0],[-3.9,-1.7],[-4.2,-2.0],[-5.5,-5.0],[-2.8,-4.0],[-3.7,-3.0],[-4.5,-4.0],[-3.8,-4.4],[-4.1,-3.6],
[-4.35,-3.62],[-4.62,-4.32],[-3.95,-3.22],[-4.22,-4.82],[-3.72,-4.62],[-4.82,-3.82],[-5.02,-4.62],[-3.32,-3.42],[-4.52,-2.72],[-3.52,-2.92],
[-5.72,-5.42],[-5.32,-5.02],[-2.62,-2.82],[-2.22,-2.42],[-1.82,-1.42],[-1.32,-1.62],[-0.92,-0.52],[-0.52,0.12],[-4.12,-3.82],[-3.82,-3.92],
[-4.72,-4.62],[-3.42,-3.32],[-5.12,-5.02],
[-2.2,-1.5],[-1.9,-2.6],[-1.6,-0.9],[-1.4,-2.1],[-1.0,-3.2],[-0.8,-3.5],[-1.5,-3.9],[-2.0,-2.9],[-1.2,-0.5],[-0.7,-1.4],
[-0.4,-2.2],[-0.2,-0.9],[1.97,-2.65],[-2.3,-0.7],
[0.0,0.5],[0.3,0.9],[0.5,0.3],[0.7,1.3],[0.9,0.6],[1.1,1.6],[1.3,1.0],[1.5,2.0],[1.7,1.3],[1.9,1.8],
[2.1,2.1],[2.25,1.95],[1.9,2.5],[2.3,2.6],[0.4,1.6],[0.8,2.0],[1.2,2.2],[-0.3,0.4],[0.2,-0.4],[0.6,-0.1],
[1.0,0.1],[1.4,0.7],[1.6,1.7],[-0.6,0.1],[0.1,1.1],[0.9,1.1],[1.3,1.4],[1.8,1.0],[2.0,1.5],[0.6,0.8],
[-0.5,-0.7],[-0.9,-0.2],[0.3,0.1],[1.1,0.6],[2.2,1.2],[0.5,1.9],[-0.2,1.2],[1.4,2.6],[2.25,2.55],
[0.72,0.42],[1.22,1.22],[1.62,1.42],[2.02,2.22],[0.32,0.62],[0.92,1.62],[1.52,1.12]
];

const series = [d7True, d7OU, d7NN, d7Legend, d4True, d4OU, d4NN, d4Legend];

const width = 459, height = 330;
const pw = 86.7, ph = 119.7;

const svg = d3.select("#chart")
    .append("svg")
    .attr("width", width)
    .attr("height", height);

series.forEach(function (data, i) {
    const row = Math.floor(i / 4), col = i % 4;
    const left = 29 + col * 108.7;
    const top = row === 0 ? 26 : 175.4;

    const x = d3.scaleLinear().domain([-6, 3]).range([0, pw]);
    const y = d3.scaleLinear().domain([-6, 3]).range([ph, 0]);

    const g = svg.append("g").attr("transform", `translate(${left},${top})`);

    g.append("clipPath").attr("id", "clip" + i)
        .append("rect").attr("width", pw).attr("height", ph);

    // the points
    g.append("g")
        .attr("clip-path", `url(#clip${i})`)
        .selectAll("circle")
        .data(data)
        .join("circle")
        .attr("cx", d => x(d[0]))
        .attr("cy", d => y(d[1]))
        .attr("r", 0.95)
        .attr("fill", colors[i]);

    // axes with tiny tick labels
    const xAxis = g.append("g")
        .attr("transform", `translate(0,${ph})`)
        .call(d3.axisBottom(x).tickValues(ticks).tickSize(1.3).tickPadding(0.8));
    const yAxis = g.append("g")
        .call(d3.axisLeft(y).tickValues(ticks).tickSize(1.3).tickPadding(0.8));
    [xAxis, yAxis].forEach(function (a) {
        a.select(".domain").remove();
        a.attr("font-size", 3.4).attr("font-family", "DejaVu Sans");
        a.selectAll("line").attr("stroke", "#888").attr("stroke-width", 0.5);
        a.selectAll("text").attr("fill", "#444");
    });

    // frame
    g.append("rect")
        .attr("width", pw)
        .attr("height", ph)
        .attr("fill", "none")
        .attr("stroke", "#a0a0a0")
        .attr("stroke-width", 0.8);

    g.append("text")
        .attr("x", pw / 2)
        .attr("y", -2.4)
        .attr("text-anchor", "middle")
        .attr("font-size", 10.5)
        .attr("fill", "#111")
        .text(titles[i]);

    g.append("text")
        .attr("x", pw / 2)
        .attr("y", ph + 14.8)
        .attr("text-anchor", "middle")
        .attr("font-size", 10.5)
        .attr("fill", "#111")
        .text(xLabel);

    g.append("text")
        .attr("transform", `translate(-10.2,${ph / 2}) rotate(-90)`)
        .attr("text-anchor", "middle")
        .attr("font-size", 10.5)
        .attr("fill", "#111")
        .text(yLabel);
});
</script>
</body>
</html>
